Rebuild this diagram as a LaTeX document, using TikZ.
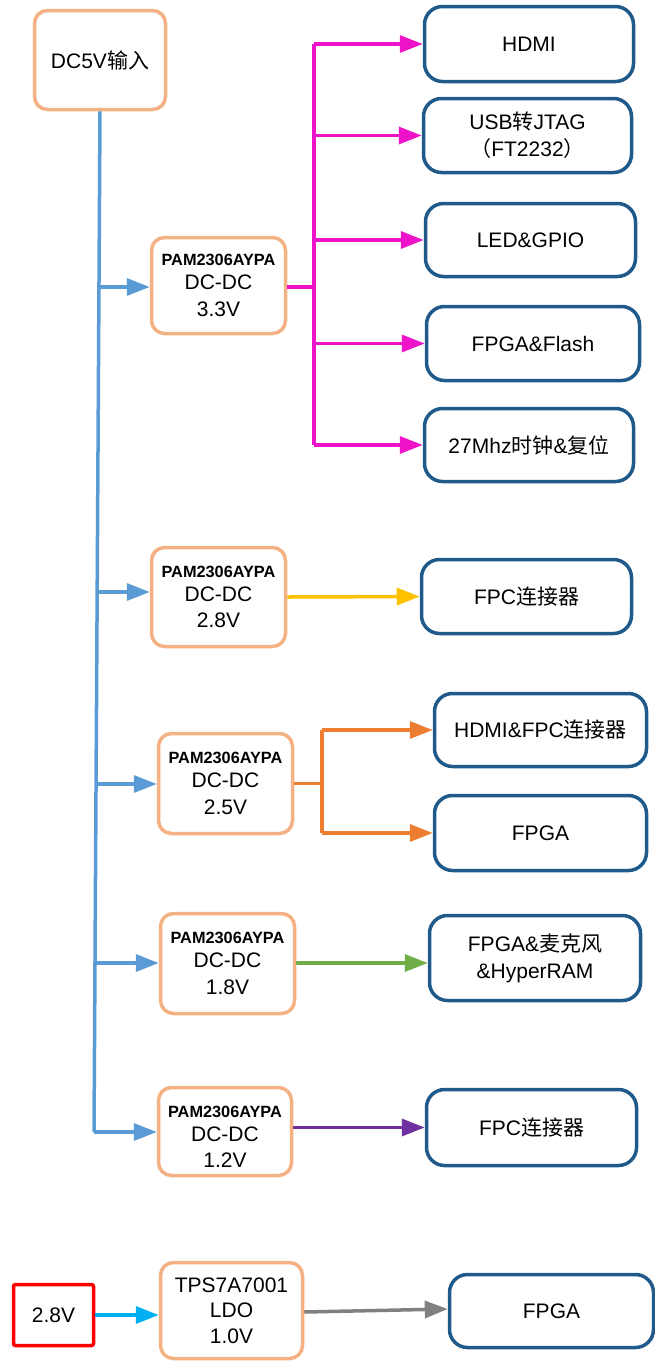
\documentclass[tikz,border=0pt]{standalone}
\usepackage{fontspec}
\setmainfont{Liberation Sans}
\newfontfamily\cjk{Noto Sans CJK SC}
\usetikzlibrary{arrows.meta}
\definecolor{peach}{RGB}{244,177,131}
\definecolor{dblue}{RGB}{31,90,138}
\definecolor{lblue}{RGB}{91,155,213}
\definecolor{magen}{RGB}{238,18,200}
\definecolor{yell}{RGB}{255,192,0}
\definecolor{orng}{RGB}{237,125,49}
\definecolor{grn}{RGB}{112,173,71}
\definecolor{purp}{RGB}{112,48,160}
\definecolor{cyn}{RGB}{0,176,240}
\definecolor{gry}{RGB}{128,128,128}
\begin{document}
\begin{tikzpicture}[x=1pt,y=-1pt,
  pbox/.style={draw=peach,line width=3.5pt,rounded corners=13pt,fill=white,inner sep=0pt,align=center,
    font=\fontsize{21}{24}\selectfont},
  rbox/.style={draw=dblue,line width=3.5pt,rounded corners=18pt,fill=white,inner sep=0pt,align=center,
    font=\fontsize{21}{27}\selectfont},
  ptxt/.style={inner sep=0pt,align=center,font=\fontsize{21}{24}\selectfont},
  conn/.style={line width=3.5pt,-{Triangle[length=23pt,width=17pt]}},
  plain/.style={line width=3.5pt},
]
\useasboundingbox (0,0) rectangle (654,1361);
\newcommand{\pam}{{\fontsize{16.3}{18}\selectfont\bfseries PAM2306AYPA}}

% source and converter boxes
\node[pbox,minimum width=131,minimum height=99] (dc5) at (100,60) {DC5V{\cjk 输入}};
\node[pbox,minimum width=134,minimum height=96] (b33) at (218.5,285.5) {\pam\\DC-DC\\[2.5pt]3.3V};
\node[pbox,minimum width=134,minimum height=99] (b28) at (218.5,597) {\pam\\DC-DC\\[2.5pt]2.8V};
\node[pbox,minimum width=134,minimum height=100] (b25) at (225.5,783.5) {\pam\\DC-DC\\[2.5pt]2.5V};
\node[pbox,minimum width=134,minimum height=100] (b18) at (227.5,963.5) {\pam\\DC-DC\\[2.5pt]1.8V};
\node[pbox,minimum width=133,minimum height=88] (b12) at (225,1131.5) {};
\node[ptxt] (t12) at (225,1137) {\pam\\DC-DC\\[2.5pt]1.2V};
\node[pbox,minimum width=142,minimum height=96,font=\fontsize{21}{25.5}\selectfont] (ldo) at (231.5,1310.5) {TPS7A7001\\LDO\\1.0V};
\node[draw=red,line width=3.5pt,rounded corners=2pt,fill=white,minimum width=80,minimum height=61,inner sep=0pt,
  font=\fontsize{21}{24}\selectfont] (v28) at (53.5,1315) {2.8V};

% load boxes
\node[rbox,minimum width=209,minimum height=75] (r1) at (529,44) {HDMI};
\node[rbox,minimum width=208,minimum height=74] (r2) at (527.5,135.5) {USB{\cjk 转}JTAG\\{\cjk （}FT2232{\cjk ）}};
\node[rbox,minimum width=210,minimum height=73] (r3) at (530.5,240) {LED\&GPIO};
\node[rbox,minimum width=213,minimum height=74] (r4) at (533,343.5) {FPGA\&Flash};
\node[rbox,minimum width=209,minimum height=73] (r5) at (529,445) {27Mhz{\cjk 时钟}\&{\cjk 复位}};
\node[rbox,minimum width=210,minimum height=74] (r6) at (526.5,596.5) {FPC{\cjk 连接器}};
\node[rbox,minimum width=212,minimum height=73] (r7) at (540.5,730) {HDMI\&FPC{\cjk 连接器}};
\node[rbox,minimum width=212,minimum height=75] (r8) at (540.5,833) {FPGA};
\node[rbox,minimum width=211,minimum height=85] (r9) at (535,958) {FPGA\&{\cjk 麦克风}\\\&HyperRAM};
\node[rbox,minimum width=210,minimum height=76] (r10) at (531.5,1127.5) {FPC{\cjk 连接器}};
\node[rbox,minimum width=204,minimum height=73] (r11) at (551.5,1311) {FPGA};

% 5V trunk
\coordinate (t1) at (99,287);
\coordinate (t2) at (97.3,592);
\coordinate (t3) at (96,784);
\coordinate (t4) at (95,963);
\coordinate (t5) at (94,1132);
\draw[plain,lblue,line join=miter] (dc5.south) -- (t5);
\draw[conn,lblue] (t1) -- (t1 -| b33.west);
\draw[conn,lblue] (t2) -- (t2 -| b28.west);
\draw[conn,lblue] (t3) -- (t3 -| b25.west);
\draw[conn,lblue] (t4) -- (t4 -| b18.west);
\draw[conn,lblue] (t5) -- (t5 -| b12.west);

% 3.3V bus
\coordinate (mbus) at (314,287);
\draw[plain,magen] (b33.east |- mbus) -- (mbus);
\draw[plain,magen] (mbus |- r1.west) -- (mbus |- r5.west);
\draw[conn,magen] (mbus |- r1.west) -- (r1.west);
\draw[conn,magen] (mbus |- r2.west) -- (r2.west);
\draw[conn,magen] (mbus |- r3.west) -- (r3.west);
\draw[conn,magen] (mbus |- r4.west) -- (r4.west);
\draw[conn,magen] (mbus |- r5.west) -- (r5.west);

% 2.8V
\draw[conn,yell] (b28.east) -- (r6.west);

% 2.5V bus
\coordinate (obus) at (322,783.5);
\draw[plain,orng] (b25.east) -- (obus);
\draw[plain,orng] (obus |- r7.west) -- (obus |- r8.west);
\draw[conn,orng] (obus |- r7.west) -- (r7.west);
\draw[conn,orng] (obus |- r8.west) -- (r8.west);

% 1.8V
\draw[conn,grn] (b18.east |- 0,963) -- (r9.west |- 0,963);

% 1.2V
\draw[conn,purp] (b12.east |- r10.west) -- (r10.west);

% LDO
\draw[conn,cyn] (v28.east) -- (ldo.west |- v28.east);
\draw[conn,gry] ([yshift=-1.5pt]ldo.east) -- ([yshift=2pt]r11.west);
\end{tikzpicture}
\end{document}
